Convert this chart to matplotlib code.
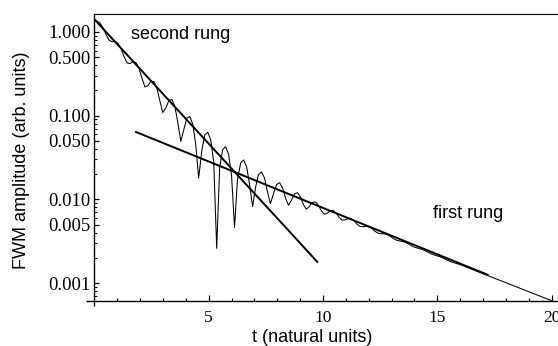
import matplotlib
matplotlib.use("Agg")
from matplotlib import pyplot as plt

# time samples of the measured four-wave-mixing signal
t_signal = [
    0.00, 0.12, 0.25, 0.38, 0.51, 0.64, 0.77, 0.90, 1.03, 1.16,
    1.29, 1.43, 1.56, 1.69, 1.82, 1.95, 2.08, 2.21, 2.34, 2.47,
    2.60, 2.73, 2.86, 2.99, 3.13, 3.26, 3.39, 3.52, 3.65, 3.78,
    3.91, 4.04, 4.17, 4.30, 4.43, 4.56, 4.70, 4.83, 4.96, 5.09,
    5.22, 5.35, 5.48, 5.61, 5.74, 5.87, 6.00, 6.13, 6.26, 6.40,
    6.53, 6.66, 6.79, 6.92, 7.05, 7.18, 7.31, 7.44, 7.57, 7.70,
    7.83, 7.97, 8.10, 8.23, 8.36, 8.49, 8.62, 8.75, 8.88, 9.01,
    9.14, 9.27, 9.40, 9.53, 9.67, 9.80, 9.93, 10.06, 10.19, 10.32,
    10.45, 10.58, 10.71, 10.84, 10.97, 11.10, 11.24, 11.37, 11.50, 11.63,
    11.76, 11.89, 12.02, 12.15, 12.28, 12.41, 12.54, 12.67, 12.80, 12.94,
    13.07, 13.20, 13.59, 13.98, 14.38, 14.77, 15.16, 15.56, 16.00, 17.00,
    18.00, 19.00, 20.00,
]
amp_signal = [
    1.384, 1.351, 1.272, 1.119, 0.933, 0.800, 0.764, 0.769, 0.735, 0.638,
    0.513, 0.426, 0.419, 0.441, 0.430, 0.368, 0.280, 0.2205, 0.2284, 0.2569,
    0.2561, 0.2153, 0.1519, 0.1089, 0.1239, 0.1525, 0.1561, 0.1289, 0.0827, 0.0492,
    0.0678, 0.0931, 0.0978, 0.0797, 0.0462, 0.01789, 0.0385, 0.0591, 0.0633, 0.0513,
    0.0278, 0.0026, 0.02417, 0.0393, 0.0425, 0.0346, 0.01913, 0.0046, 0.01740, 0.02734,
    0.02957, 0.02447, 0.01487, 0.00818, 0.01390, 0.01989, 0.02128, 0.01805, 0.01230, 0.00888,
    0.01160, 0.01501, 0.01579, 0.01375, 0.01035, 0.00849, 0.00977, 0.01162, 0.01201, 0.01072,
    0.00871, 0.00763, 0.00821, 0.00917, 0.00932, 0.00849, 0.00729, 0.00662, 0.00686, 0.00732,
    0.00734, 0.00681, 0.00606, 0.00563, 0.00569, 0.00589, 0.00585, 0.00549, 0.00502, 0.00473,
    0.00471, 0.00477, 0.00470, 0.00445, 0.00414, 0.00394, 0.00388, 0.00388, 0.00380, 0.00362,
    0.00341, 0.00326, 0.00308, 0.00269, 0.00250, 0.00221, 0.00204, 0.00181, 0.00166, 0.00129,
    0.00101, 0.000787, 0.000615,
]

# exponential fits (end points) for the two rungs
t_fit_second = [0.0, 9.75]
amp_fit_second = [1.419, 0.00179]
t_fit_first = [1.82, 17.2]
amp_fit_first = [0.0638, 0.001256]

y_major = [0.001, 0.005, 0.01, 0.05, 0.1, 0.5, 1.0]
y_major_labels = ["0.001", "0.005", "0.010", "0.050", "0.100", "0.500", "1.000"]
x_major = [5, 10, 15, 20]

W, H = 558, 346
SERIF = "Liberation Serif"
SANS = "Liberation Sans"


def main():
    fig = plt.figure(figsize=(W / 100, H / 100), dpi=100)
    ax = fig.add_axes([94.4 / W, 1 - 301 / H, (W - 94.4) / W, 287 / H])

    ax.plot(t_signal, amp_signal, color="black", lw=0.75)
    ax.plot(t_fit_second, amp_fit_second, color="black", lw=1.4)
    ax.plot(t_fit_first, amp_fit_first, color="black", lw=1.4)

    ax.set_yscale("log")
    ax.set_xlim(0, (W - 94.4) / 22.86)
    ax.set_ylim(10 ** -3.215, 10 ** 0.215)

    ax.set_xticks(x_major)
    ax.set_xticklabels([str(v) for v in x_major], fontfamily=SERIF, fontsize=12.5)
    ax.set_xticks([v for v in range(1, 21) if v % 5], minor=True)
    ax.set_yticks(y_major)
    ax.set_yticklabels(y_major_labels, fontfamily=SERIF, fontsize=13.5)
    minors = [m * d for d in (1e-4, 1e-3, 1e-2, 1e-1) for m in (2, 3, 4, 6, 7, 8, 9)]
    ax.set_yticks([v for v in minors if 10 ** -3.215 < v < 1.6], minor=True)
    ax.yaxis.set_minor_formatter(plt.NullFormatter())

    ax.tick_params(axis="x", which="major", direction="in", length=4.5, width=0.9, pad=6.5)
    ax.tick_params(axis="x", which="minor", direction="in", length=2.5, width=0.8)
    ax.tick_params(axis="y", which="major", direction="in", length=3.5, width=0.9, pad=2.5)
    ax.tick_params(axis="y", which="minor", direction="in", length=1.8, width=0.7)

    ax.spines["right"].set_visible(False)
    ax.spines["top"].set_linewidth(0.8)
    ax.spines["left"].set_linewidth(1.0)
    ax.spines["bottom"].set_linewidth(1.0)

    # axes cross a little past the origin
    ax.plot([-8 / 463.6, 0], [0, 0], transform=ax.transAxes, clip_on=False,
            color="black", lw=1.0, solid_capstyle="butt")
    ax.plot([0, 0], [-5 / 287, 0], transform=ax.transAxes, clip_on=False,
            color="black", lw=1.0, solid_capstyle="butt")

    ax.text(1.60, 0.818, "second rung", fontfamily=SANS, fontsize=13, va="baseline")
    ax.text(14.83, 0.00594, "first rung", fontfamily=SANS, fontsize=13, va="baseline")

    fig.text(312 / W, 1 - 337.5 / H, "t (natural units)", fontfamily=SANS,
             fontsize=13, ha="center", va="center")
    fig.text(21.5 / W, 1 - 160 / H, "FWM amplitude (arb. units)", fontfamily=SANS,
             fontsize=13, rotation=90, ha="center", va="center")

    fig.savefig("out.png", dpi=100)


if __name__ == "__main__":
    main()
